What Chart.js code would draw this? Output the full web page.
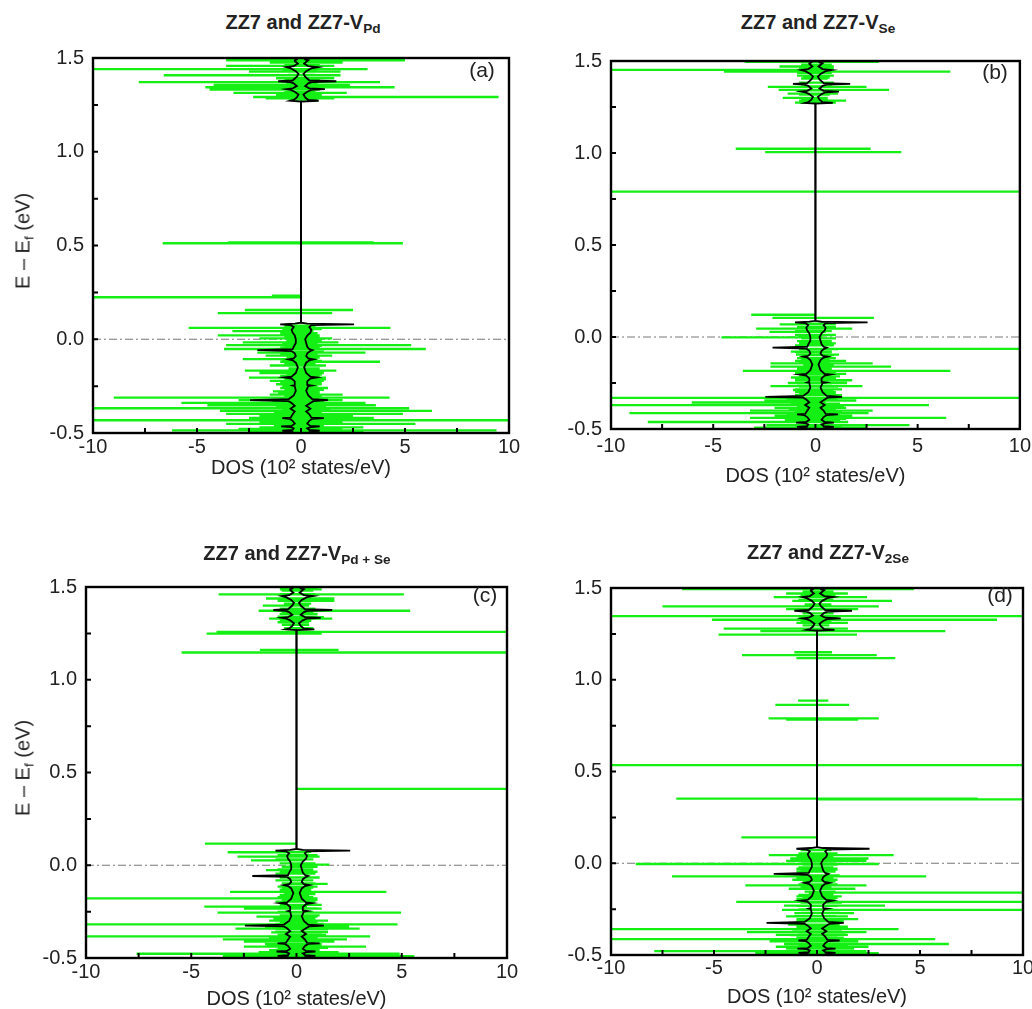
<!DOCTYPE html>
<html>
<head>
<meta charset="utf-8">
<script src="https://cdn.jsdelivr.net/npm/chart.js@4.4.1/dist/chart.umd.min.js"></script>
<style>
  html, body { margin: 0; padding: 0; background: #fff; overflow: hidden; }
  body { width: 1032px; height: 1009px; position: relative; font-family: "Liberation Sans", Arial, sans-serif; color: #222; }
  canvas { position: absolute; }
  .ttl { position: absolute; transform: translate(-50%, -50%); font-weight: bold; font-size: 20px; white-space: nowrap; }
  .ttl sub, .ytl sub { font-size: 0.68em; vertical-align: -0.3em; line-height: 0; }
  .ytl { position: absolute; transform: translate(-50%, -50%) rotate(-90deg); font-size: 20px; white-space: nowrap; }
  .lbl { position: absolute; transform: translate(-50%, -50%); font-size: 21px; }
</style>
</head>
<body>
<canvas id="cA"></canvas>
<canvas id="cB"></canvas>
<canvas id="cC"></canvas>
<canvas id="cD"></canvas>

<div class="ttl" style="left:303px; top:22px">ZZ7 and ZZ7-V<sub>Pd</sub></div>
<div class="ttl" style="left:818px; top:22px">ZZ7 and ZZ7-V<sub>Se</sub></div>
<div class="ttl" style="left:297px; top:553px">ZZ7 and ZZ7-V<sub>Pd + Se</sub></div>
<div class="ttl" style="left:828px; top:552px">ZZ7 and ZZ7-V<sub>2Se</sub></div>

<div class="ytl" style="left:23px; top:241px">E &ndash; E<sub>f</sub> (eV)</div>
<div class="ytl" style="left:23px; top:768px">E &ndash; E<sub>f</sub> (eV)</div>

<div class="lbl" style="left:482px; top:70px">(a)</div>
<div class="lbl" style="left:995px; top:72px">(b)</div>
<div class="lbl" style="left:485px; top:595px">(c)</div>
<div class="lbl" style="left:1000px; top:595px">(d)</div>

<script>
// axis ranges and tick marks
const dosRange = [-10, 10];
const energyRange = [-0.5, 1.5];
const fermi = 0;
const xTickMarks = [-10, -7.5, -5, -2.5, 0, 2.5, 5, 7.5, 10];
const yTickMarks = [-0.5, -0.25, 0, 0.25, 0.5, 0.75, 1, 1.25, 1.5];

// pristine ZZ7 DOS: [energy, spin up, spin down]
const zz7 = [
  [-0.500, 0.35, -0.35], [-0.492, 0.45, -0.45], [-0.488, 0.9, -0.9], [-0.484, 0.4, -0.4],
  [-0.475, 0.3, -0.35], [-0.468, 0.5, -0.5], [-0.465, 0.9, -0.95], [-0.462, 0.45, -0.45],
  [-0.450, 0.3, -0.3], [-0.435, 0.4, -0.4], [-0.424, 0.55, -0.55], [-0.421, 1.1, -0.9],
  [-0.418, 0.5, -0.5], [-0.400, 0.4, -0.4], [-0.385, 0.25, -0.3], [-0.370, 0.45, -0.5],
  [-0.355, 0.25, -0.3], [-0.340, 0.45, -0.45], [-0.330, 0.6, -0.6], [-0.325, 1.3, -2.45],
  [-0.320, 0.55, -0.6], [-0.300, 0.35, -0.35], [-0.275, 0.25, -0.25], [-0.250, 0.35, -0.3],
  [-0.247, 0.5, -0.4], [-0.244, 0.3, -0.3], [-0.225, 0.3, -0.3], [-0.210, 0.45, -0.45],
  [-0.204, 0.75, -0.8], [-0.200, 0.45, -0.45], [-0.180, 0.25, -0.25], [-0.150, 0.15, -0.15],
  [-0.125, 0.25, -0.25], [-0.112, 0.4, -0.4], [-0.107, 0.6, -0.6], [-0.102, 0.35, -0.35],
  [-0.090, 0.25, -0.25], [-0.075, 0.3, -0.3], [-0.063, 0.45, -0.45], [-0.058, 0.55, -2.1],
  [-0.053, 0.4, -0.4], [-0.040, 0.3, -0.35], [-0.020, 0.25, -0.25], [0.000, 0.2, -0.25],
  [0.020, 0.3, -0.3], [0.035, 0.45, -0.4], [0.050, 0.5, -0.45], [0.065, 0.4, -0.35],
  [0.075, 0.5, -0.5], [0.079, 2.55, -1.0], [0.083, 0.3, -0.3], [0.088, 0, 0],
  [1.268, 0, 0], [1.272, 0.85, -0.5], [1.276, 0.35, -0.35], [1.290, 0.2, -0.2],
  [1.305, 0.12, -0.12], [1.320, 0.3, -0.3], [1.330, 0.5, -0.5], [1.334, 1.15, -0.7],
  [1.338, 0.4, -0.4], [1.350, 0.2, -0.2], [1.365, 0.35, -0.35], [1.372, 0.55, -0.55],
  [1.376, 1.7, -1.1], [1.380, 0.4, -0.4], [1.400, 0.2, -0.2], [1.415, 0.12, -0.12],
  [1.430, 0.25, -0.25], [1.445, 0.5, -0.5], [1.451, 0.8, -0.7], [1.456, 0.35, -0.35],
  [1.470, 0.15, -0.15], [1.484, 0.3, -0.3], [1.488, 0.35, -0.3], [1.492, 0.2, -0.2],
  [1.500, 0.15, -0.15]
];

// dense band states near zero DOS, seen in every defect panel: [energy, spin down, spin up]
const bandStates = [
  [-0.497, -1.2, 1.4], [-0.482, -1.0, 1.3], [-0.458, -1.3, 1.1], [-0.445, -0.9, 1.5],
  [-0.426, -1.4, 1.2], [-0.405, -1.0, 1.3], [-0.392, -1.3, 1.0], [-0.376, -0.9, 1.4],
  [-0.362, -1.2, 1.2], [-0.346, -1.0, 1.5], [-0.334, -1.4, 1.1], [-0.316, -1.0, 1.3],
  [-0.304, -0.8, 1.0], [-0.288, -1.1, 0.9], [-0.270, -0.8, 1.1], [-0.252, -0.9, 0.8],
  [-0.232, -1.0, 1.0], [-0.214, -0.8, 1.2], [-0.196, -1.0, 0.9], [-0.188, -0.7, 1.0],
  [-0.172, -0.9, 0.8], [-0.155, -0.6, 0.9], [-0.132, -0.8, 0.7], [-0.115, -0.9, 1.0],
  [-0.098, -0.7, 0.9], [-0.082, -1.0, 0.8], [-0.066, -0.8, 1.1], [-0.045, -1.0, 0.9],
  [-0.035, -0.8, 1.0], [-0.022, -0.9, 0.8], [-0.008, -0.7, 1.0], [0.010, -0.8, 0.9],
  [0.032, -1.0, 0.8], [0.054, -0.9, 1.0], [0.072, -0.8, 0.7],
  [1.278, -0.6, 0.8], [1.296, -0.7, 0.6], [1.318, -0.8, 0.7], [1.340, -0.9, 1.0],
  [1.362, -0.7, 0.8], [1.383, -0.8, 0.9], [1.410, -0.6, 0.7], [1.435, -0.9, 0.8],
  [1.462, -0.8, 0.9], [1.480, -0.7, 0.8], [1.497, -0.8, 1.0]
];

// defect DOS peaks: [energy, spin down, spin up]
const vPd = [
  [1.488, -3.6, 5.0], [1.475, -1.5, 2.0], [1.458, -3.6, 1.6], [1.441, -10, 3.2],
  [1.427, -2.5, 1.9], [1.408, -6.6, 1.9], [1.392, -1.2, 1.6], [1.371, -7.8, 3.8],
  [1.357, -4.2, 2.35], [1.344, -4.6, 4.5], [1.332, -4.4, 0.9], [1.314, -3.25, 2.2],
  [1.302, -1.2, 1.0], [1.292, -2.3, 9.5], [1.285, -1.7, 1.6],
  [0.516, -3.5, 3.5], [0.512, -6.65, 4.9], [0.232, -1.4, 0], [0.224, -10, 0],
  [0.156, -2.7, 2.5], [0.139, -4.0, 1.5], [0.061, -5.4, 4.3], [0.043, -3.3, 0.6],
  [0.021, -4.0, 0.9], [0.005, -2.0, 1.5], [-0.017, -2.8, 1.8], [-0.031, -3.6, 5.3],
  [-0.052, -3.7, 6.0], [-0.071, -2.1, 3.1], [-0.087, -1.7, 1.5], [-0.106, -2.8, 0.8],
  [-0.120, -1.0, 3.8], [-0.140, -1.5, 1.2], [-0.167, -2.7, 1.7], [-0.180, -2.0, 1.1],
  [-0.205, -2.5, 1.2], [-0.222, -1.5, 1.1], [-0.240, -1.2, 1.0], [-0.260, -1.0, 1.3],
  [-0.278, -1.35, 0.9], [-0.295, -1.5, 2.0], [-0.311, -9.0, 4.26], [-0.325, -3.0, 2.0],
  [-0.339, -5.75, 3.1], [-0.352, -4.5, 3.6], [-0.368, -10, 5.2], [-0.382, -3.9, 6.3],
  [-0.398, -3.6, 4.9], [-0.410, -2.0, 2.5], [-0.420, -2.5, 3.5], [-0.432, -10, 10],
  [-0.441, -2.0, 2.0], [-0.451, -3.6, 5.5], [-0.470, -2.0, 3.0], [-0.478, -3.0, 2.0],
  [-0.486, -6.2, 9.4], [-0.495, -2.5, 3.0]
];

const vSe = [
  [1.495, -3.46, 3.1], [1.470, -1.76, 0.9], [1.452, -10, 0.5], [1.442, -4.47, 6.6],
  [1.420, -0.9, 0.9], [1.405, -0.7, 0.6], [1.359, -2.33, 2.5], [1.343, -1.8, 3.6],
  [1.323, -1.36, 1.1], [1.300, -1.6, 0.6], [1.285, -0.8, 1.5], [1.274, -1.0, 1.0],
  [1.023, -3.9, 2.7], [1.005, -2.46, 4.2], [0.790, -10, 10],
  [0.121, -3.14, 0], [0.104, -2.1, 2.86], [0.069, -1.75, 1.0], [0.046, -2.9, 1.8],
  [0.028, -2.25, 0.5], [0.012, -1.0, 1.0], [-0.002, -4.6, 0.35], [-0.029, -0.8, 0.8],
  [-0.064, -0.3, 10], [-0.080, -1.2, 0.8], [-0.096, -0.95, 1.15], [-0.117, -0.7, 0.7],
  [-0.130, -1.0, 1.5], [-0.143, -2.2, 2.8], [-0.161, -2.2, 3.7], [-0.184, -3.55, 6.6],
  [-0.200, -1.0, 1.5], [-0.220, -1.2, 1.0], [-0.235, -1.0, 1.8], [-0.250, -1.35, 1.55],
  [-0.267, -2.2, 2.3], [-0.285, -1.0, 1.3], [-0.300, -1.0, 1.0], [-0.331, -10, 10],
  [-0.345, -2.5, 2.0], [-0.356, -6.05, 0.5], [-0.370, -10, 5.55], [-0.385, -2.0, 1.5],
  [-0.400, -3.2, 2.8], [-0.414, -9.1, 2.6], [-0.428, -2.0, 1.8], [-0.440, -3.2, 6.4],
  [-0.452, -1.5, 1.2], [-0.462, -8.2, 1.6], [-0.479, -2.4, 4.6], [-0.492, -3.0, 2.5]
];

const vPdSe = [
  [1.487, -0.79, 1.2], [1.460, -3.7, 5.1], [1.438, -1.45, 1.8], [1.425, -0.9, 1.8],
  [1.400, -1.6, 0.6], [1.372, -1.8, 5.4], [1.355, -0.8, 1.0], [1.337, -0.6, 1.3],
  [1.330, -1.3, 1.7], [1.310, -0.9, 0.6], [1.258, -3.8, 10], [1.249, -4.27, 1.2],
  [1.161, -1.74, 2.0], [1.147, -5.46, 10], [0.412, 0, 10],
  [0.117, -4.35, 0], [0.070, -3.27, 0.6], [0.047, -2.8, 1.1], [0.026, -2.16, 0.3],
  [0.003, -0.3, 1.56], [-0.026, -1.45, 0.4], [-0.040, -0.8, 0.8], [-0.100, -0.58, 1.48],
  [-0.120, -0.7, 0.8], [-0.144, -3.16, 4.27], [-0.160, -0.8, 0.6], [-0.179, -10, 1.0],
  [-0.223, -4.38, 0.5], [-0.234, -2.5, 1.2], [-0.255, -3.75, 4.97], [-0.277, -1.9, 1.0],
  [-0.298, -1.3, 1.5], [-0.319, -10, 4.8], [-0.330, -1.5, 2.5], [-0.342, -2.9, 3.0],
  [-0.360, -1.0, 1.5], [-0.383, -10, 3.5], [-0.400, -3.5, 2.4], [-0.412, -2.5, 1.8],
  [-0.425, -1.5, 1.2], [-0.439, -2.5, 3.3], [-0.456, -1.0, 0.8], [-0.468, -1.8, 2.0],
  [-0.477, -7.6, 4.9], [-0.490, -3.5, 5.6]
];

const v2Se = [
  [1.494, -6.55, 4.7], [1.470, -1.5, 1.5], [1.450, -2.1, 2.43], [1.430, -1.2, 3.64],
  [1.400, -7.5, 3.0], [1.385, -1.5, 2.0], [1.347, -10, 10], [1.327, -5.1, 8.74],
  [1.310, -1.0, 1.5], [1.279, -4.53, 1.5], [1.265, -2.75, 6.23], [1.246, -4.78, 1.94],
  [1.150, -1.1, 0.73], [1.134, -3.64, 2.9], [1.118, -1.0, 3.8],
  [0.886, -0.92, 0.55], [0.863, -2.02, 1.56], [0.790, -2.35, 3.0], [0.783, -1.5, 2.0],
  [0.535, -10, 10], [0.352, -6.83, 7.8], [0.348, 0, 10],
  [0.141, -3.67, 0], [0.044, -2.34, 3.72], [0.026, -1.3, 2.5], [0.013, -1.5, 2.4],
  [-0.004, -8.8, 3.0], [-0.030, -1.0, 1.0], [-0.072, -7.04, 5.3], [-0.090, -1.2, 1.0],
  [-0.121, -3.48, 2.4], [-0.139, -1.37, 1.86], [-0.160, -0.4, 10], [-0.180, -1.0, 1.2],
  [-0.210, -3.92, 10], [-0.231, -1.6, 3.3], [-0.254, -1.7, 10], [-0.272, -1.1, 1.8],
  [-0.290, -1.5, 1.5], [-0.305, -1.0, 2.0], [-0.359, -10, 3.96], [-0.375, -3.4, 2.4],
  [-0.390, -2.0, 1.5], [-0.414, -10, 5.74], [-0.425, -2.3, 2.0], [-0.440, -1.6, 6.4],
  [-0.455, -2.0, 2.5], [-0.465, -1.5, 1.8], [-0.479, -7.9, 2.4], [-0.490, -3.0, 3.0]
];

// layout (pixel boxes of each plot area)
const YW = 70, PT = 12, PR = 14, XH = 60;
const panels = [
  {canvas: 'cA', rows: vPd,   left: 93,  top: 49,  w: 416, h: 384, tickPad: 2, titlePad: 13},
  {canvas: 'cB', rows: vSe,   left: 611, top: 52,  w: 411, h: 377, tickPad: 5, titlePad: 1},
  {canvas: 'cC', rows: vPdSe, left: 86,  top: 578, w: 421, h: 380, tickPad: 2, titlePad: 7},
  {canvas: 'cD', rows: v2Se,  left: 611, top: 579, w: 412, h: 376, tickPad: 1, titlePad: 6}
];

Chart.defaults.font.family = '"Liberation Sans", Arial, sans-serif';
Chart.defaults.color = '#222';

const framePlugin = {
  id: 'frame',
  afterDatasetsDraw(chart) {
    const {ctx, chartArea: a, scales: {x, y}} = chart;
    ctx.save();
    ctx.strokeStyle = '#000';
    ctx.lineWidth = 2;
    ctx.beginPath();
    xTickMarks.forEach(function (v) {
      const px = x.getPixelForValue(v);
      ctx.moveTo(px, a.bottom);
      ctx.lineTo(px, a.bottom - 5);
    });
    yTickMarks.forEach(function (v) {
      const py = y.getPixelForValue(v);
      ctx.moveTo(a.left, py);
      ctx.lineTo(a.left + 5, py);
    });
    ctx.stroke();
    ctx.lineWidth = 2.4;
    ctx.strokeRect(a.left, a.top, a.right - a.left, a.bottom - a.top);
    ctx.restore();
  }
};

function spikes(rows) {
  let pts = [];
  rows.forEach(function (r) {
    pts.push({x: r[1], y: r[0]}, {x: r[2], y: r[0]}, {x: null, y: null});
  });
  return pts;
}

function makePanel(p) {
  const cv = document.getElementById(p.canvas);
  cv.width = YW + p.w + PR;
  cv.height = PT + p.h + XH;
  cv.style.left = (p.left - YW) + 'px';
  cv.style.top = (p.top - PT) + 'px';

  new Chart(cv, {
    type: 'scatter',
    data: {
      datasets: [
        {
          data: zz7.map(r => ({x: r[1], y: r[0]})),
          showLine: true, borderColor: '#000', borderWidth: 1.8, pointRadius: 0, order: 0
        },
        {
          data: zz7.map(r => ({x: r[2], y: r[0]})),
          showLine: true, borderColor: '#000', borderWidth: 1.8, pointRadius: 0, order: 0
        },
        {
          data: spikes(p.rows.concat(bandStates)),
          showLine: true, spanGaps: false, borderColor: '#14f014', borderWidth: 2.3, pointRadius: 0, order: 1
        },
        {
          data: [{x: dosRange[0], y: fermi}, {x: dosRange[1], y: fermi}],
          showLine: true, borderColor: '#777', borderWidth: 1, borderDash: [8, 3, 2, 3], pointRadius: 0, order: 2
        }
      ]
    },
    options: {
      responsive: false,
      devicePixelRatio: 1,
      animation: false,
      events: [],
      layout: {padding: {top: PT, right: PR, left: 0, bottom: 0}},
      plugins: {legend: {display: false}, tooltip: {enabled: false}},
      scales: {
        x: {
          type: 'linear', position: 'bottom', min: dosRange[0], max: dosRange[1],
          ticks: {stepSize: 5, font: {size: 20}, padding: p.tickPad, maxRotation: 0, autoSkip: false},
          grid: {display: false, drawTicks: false},
          border: {display: false},
          title: {display: true, text: 'DOS (10\u00B2 states/eV)', font: {size: 20}, padding: {top: 0, bottom: p.titlePad}},
          afterFit: function (s) { s.height = XH; }
        },
        y: {
          type: 'linear', min: energyRange[0], max: energyRange[1],
          ticks: {stepSize: 0.5, font: {size: 20}, padding: 9, callback: v => v.toFixed(1)},
          grid: {display: false, drawTicks: false},
          border: {display: false},
          afterFit: function (s) { s.width = YW; }
        }
      }
    },
    plugins: [framePlugin]
  });
}

panels.forEach(makePanel);
</script>
</body>
</html>
